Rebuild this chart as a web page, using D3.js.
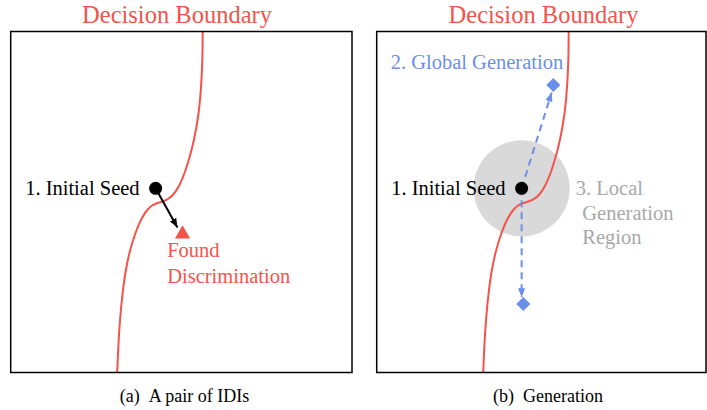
<!DOCTYPE html>
<html>
<head>
<meta charset="utf-8">
<script src="https://cdn.jsdelivr.net/npm/d3@7"></script>
<style>
  body { margin: 0; background: #fff; }
</style>
</head>
<body>
<svg id="fig" width="707" height="410"></svg>
<script>
// everything is in panel units: 0..100 on both axes, y pointing up
const boundaryX = [56.30, 56.19, 55.75, 55.01, 53.72, 52.46, 50.97, 49.33, 47.80, 46.10, 44.49, 43.05, 41.44, 40.06, 38.50, 36.39, 34.90, 33.78, 32.76, 31.85, 31.23];
const boundaryY = [100.0, 91.64, 82.84, 75.51, 68.18, 63.20, 58.50, 54.69, 52.35, 50.88, 50.15, 49.71, 48.97, 47.65, 45.31, 40.32, 35.34, 30.06, 22.73, 12.46, 0];

const seedPoint = [42.5, 54.0];
const foundPoint = [50.4, 40.6];
const foundArrowTip = [48.9, 42.5];
const globalPoints = [[51.8, 84.3], [43.0, 20.1]];
const globalArrowTips = [[51.3, 82.1], [42.5, 22.1]];
const localRadius = 14.1;

const panelTitles = ["Decision Boundary", "Decision Boundary"];
const captionTags = ["(a)", "(b)"];
const captionTexts = ["A pair of IDIs", "Generation"];

const red = "#f4534b", blue = "#6b8fe8", grey = "#a8a8a8";
const serif = '"Liberation Serif"';

const svg = d3.select("#fig");
const size = 341;
const panelLeft = [10.7, 376.7];
const panelRight = [352, 706];
const panelTop = 31.5;

const defs = svg.append("defs");
function marker(id, color) {
    defs.append("marker")
        .attr("id", id)
        .attr("viewBox", "0 -5 10 10")
        .attr("refX", 10)
        .attr("markerUnits", "userSpaceOnUse")
        .attr("markerWidth", 9)
        .attr("markerHeight", 9)
        .attr("orient", "auto")
        .append("path")
        .attr("d", "M0,-4L10,0L0,4Z")
        .attr("fill", color);
}
marker("headBlack", "#000");
marker("headBlue", blue);

function label(g, x, y, size, color, str) {
    return g.append("text")
        .attr("x", x).attr("y", y)
        .attr("font-size", size)
        .attr("fill", color)
        .style("font-family", serif)
        .text(str);
}

const boundary = boundaryX.map((x, i) => [x, boundaryY[i]]);

[0, 1].forEach(p => {
    const x = d3.scaleLinear().domain([0, 100]).range([panelLeft[p], panelLeft[p] + size]);
    const y = d3.scaleLinear().domain([0, 100]).range([panelTop + size, panelTop]);
    const g = svg.append("g");

    // title and caption
    label(g, p === 0 ? 177 : 543.5, 22.7, 24.5, red, panelTitles[p])
        .attr("text-anchor", "middle");

    const cap = label(g, p === 0 ? 184.5 : 548, 402, 18, "#000", null)
        .attr("text-anchor", "middle");
    cap.append("tspan").text(captionTags[p]);
    cap.append("tspan").attr("dx", 9).text(captionTexts[p]);

    if (p === 1) {
        g.append("circle")
            .attr("cx", x(seedPoint[0]))
            .attr("cy", y(seedPoint[1]))
            .attr("r", x(localRadius) - x(0))
            .attr("fill", "#d9d9d9");
    }

    g.append("path")
        .datum(boundary)
        .attr("fill", "none")
        .attr("stroke", red)
        .attr("stroke-width", 2)
        .attr("d", d3.line().x(d => x(d[0])).y(d => y(d[1])).curve(d3.curveCatmullRom));

    if (p === 0) {
        g.append("line")
            .attr("x1", x(seedPoint[0])).attr("y1", y(seedPoint[1]))
            .attr("x2", x(foundArrowTip[0])).attr("y2", y(foundArrowTip[1]))
            .attr("stroke", "#000")
            .attr("stroke-width", 2)
            .attr("marker-end", "url(#headBlack)");

        g.append("path")
            .attr("transform", `translate(${x(foundPoint[0])},${y(foundPoint[1])})`)
            .attr("d", d3.symbol(d3.symbolTriangle, 100)())
            .attr("fill", red);

        label(g, x(45.9), y(33.8), 20.5, red, "Found");
        label(g, x(45.9), y(26.3), 20.5, red, "Discrimination");
    } else {
        globalArrowTips.forEach(t => {
            g.append("line")
                .attr("x1", x(seedPoint[0])).attr("y1", y(seedPoint[1]))
                .attr("x2", x(t[0])).attr("y2", y(t[1]))
                .attr("stroke", blue)
                .attr("stroke-width", 2)
                .attr("stroke-dasharray", "7,5")
                .attr("marker-end", "url(#headBlue)");
        });
        globalPoints.forEach(d => {
            g.append("path")
                .attr("transform", `translate(${x(d[0])},${y(d[1])}) rotate(45)`)
                .attr("d", d3.symbol(d3.symbolSquare, 100)())
                .attr("fill", blue);
        });

        label(g, x(4.1), y(89.0), 20.5, blue, "2. Global Generation");

        const local = [["3. Local", 58.4, 52.1], ["Generation", 60.3, 44.8], ["Region", 60.3, 37.6]];
        local.forEach(l => label(g, x(l[1]), y(l[2]), 20.5, grey, l[0]));
    }

    g.append("circle")
        .attr("cx", x(seedPoint[0]))
        .attr("cy", y(seedPoint[1]))
        .attr("r", 6.5)
        .attr("fill", "#000");

    label(g, x(37.8), y(52.1), 20.5, "#000", "1. Initial Seed")
        .attr("text-anchor", "end");

    // panel frame
    g.append("rect")
        .attr("x", panelLeft[p]).attr("y", panelTop)
        .attr("width", panelRight[p] - panelLeft[p])
        .attr("height", size)
        .attr("fill", "none")
        .attr("stroke", "#000")
        .attr("stroke-width", 1.5);
});
</script>
</body>
</html>
